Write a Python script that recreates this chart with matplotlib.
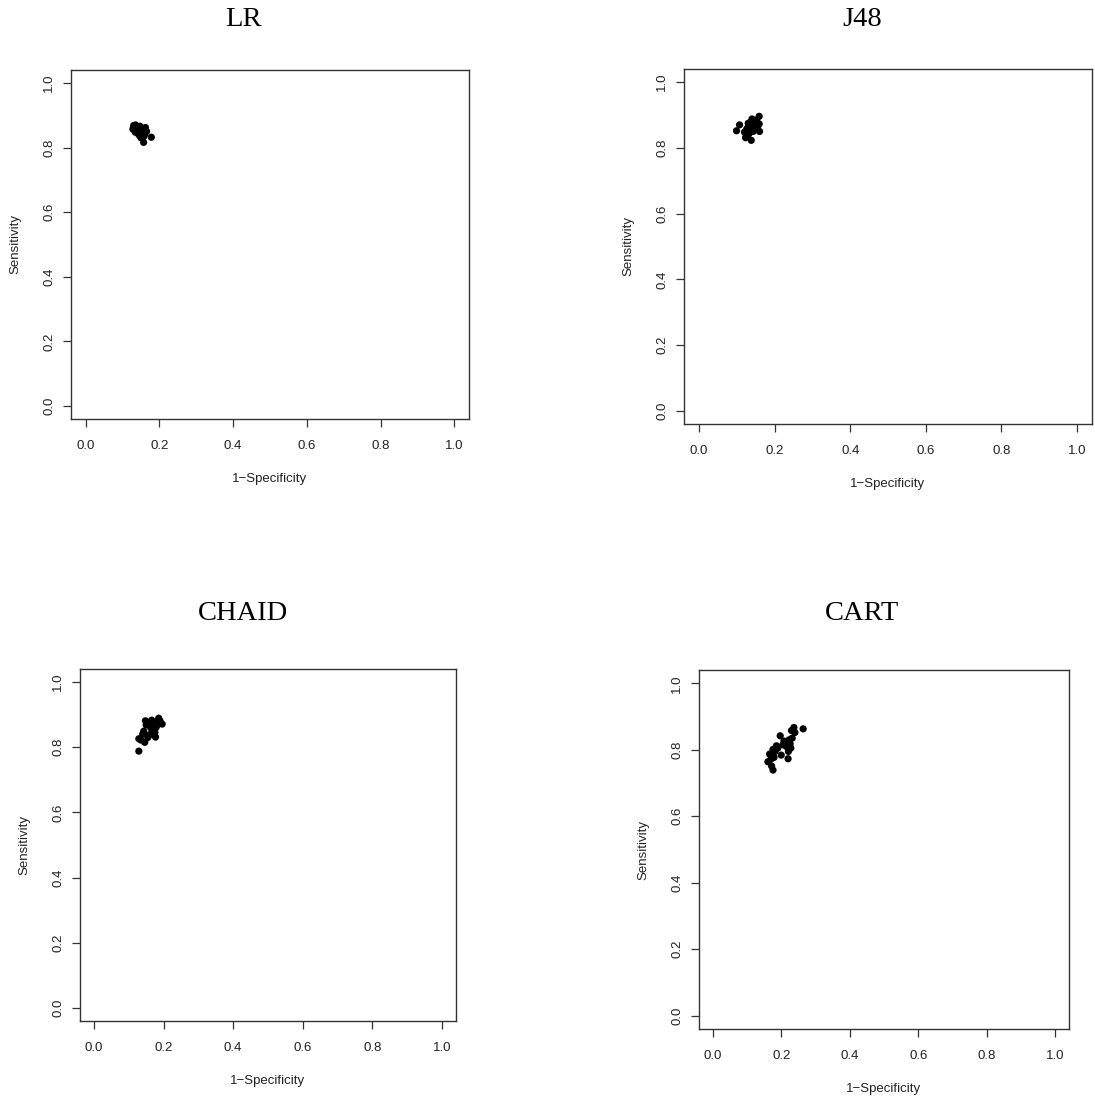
import matplotlib
matplotlib.use("Agg")
import matplotlib.pyplot as plt

titles = ["LR", "J48", "CHAID", "CART"]

lr_x = [0.130, 0.135, 0.140, 0.145, 0.132, 0.138, 0.143, 0.148, 0.152, 0.155, 0.158, 0.162, 0.165,
        0.178, 0.157, 0.150, 0.140, 0.136, 0.145, 0.153, 0.160, 0.147, 0.142, 0.134, 0.128]
lr_y = [0.868, 0.870, 0.865, 0.862, 0.858, 0.855, 0.850, 0.848, 0.845, 0.840, 0.835, 0.862, 0.850,
        0.832, 0.816, 0.830, 0.845, 0.860, 0.838, 0.855, 0.842, 0.866, 0.852, 0.848, 0.857]

j48_x = [0.099, 0.107, 0.120, 0.125, 0.128, 0.130, 0.133, 0.135, 0.138, 0.140, 0.142, 0.145, 0.148,
         0.150, 0.152, 0.155, 0.159, 0.160, 0.159, 0.138, 0.123, 0.130, 0.143, 0.136, 0.147, 0.126]
j48_y = [0.852, 0.870, 0.848, 0.835, 0.860, 0.875, 0.845, 0.865, 0.855, 0.888, 0.870, 0.880, 0.860,
         0.875, 0.885, 0.865, 0.896, 0.850, 0.873, 0.823, 0.831, 0.840, 0.850, 0.878, 0.882, 0.857]

chaid_x = [0.129, 0.129, 0.135, 0.143, 0.146, 0.148, 0.150, 0.155, 0.158, 0.160, 0.163, 0.166, 0.168,
           0.170, 0.172, 0.175, 0.177, 0.180, 0.183, 0.186, 0.190, 0.196, 0.140, 0.152, 0.165, 0.178]
chaid_y = [0.788, 0.826, 0.822, 0.849, 0.815, 0.881, 0.868, 0.830, 0.837, 0.875, 0.860, 0.883, 0.850,
           0.857, 0.870, 0.845, 0.831, 0.865, 0.878, 0.889, 0.880, 0.871, 0.840, 0.872, 0.842, 0.860]

cart_x = [0.161, 0.176, 0.172, 0.166, 0.176, 0.186, 0.197, 0.200, 0.220, 0.213, 0.223, 0.228, 0.230,
          0.237, 0.240, 0.264, 0.221, 0.208, 0.232, 0.179, 0.170, 0.190, 0.215, 0.226, 0.182, 0.205]
cart_y = [0.764, 0.739, 0.751, 0.787, 0.801, 0.812, 0.842, 0.784, 0.773, 0.820, 0.830, 0.805, 0.858,
          0.867, 0.852, 0.863, 0.795, 0.826, 0.835, 0.777, 0.772, 0.805, 0.810, 0.818, 0.795, 0.815]

ticks = [0.0, 0.2, 0.4, 0.6, 0.8, 1.0]
tick_labels = ["0.0", "0.2", "0.4", "0.6", "0.8", "1.0"]

W, H = 1095, 1104
fig = plt.figure(figsize=(W / 100, H / 100), dpi=100)

# axes boxes in pixels: left, right, top, bottom
boxes = [(71, 469, 70, 419), (684, 1092, 69, 424), (80, 456, 669, 1021), (699, 1069, 670, 1029)]
title_pos = [(243, 26), (862, 26), (243, 620), (862, 620)]
data = [(lr_x, lr_y), (j48_x, j48_y), (chaid_x, chaid_y), (cart_x, cart_y)]

plt.rcParams['font.family'] = ['Liberation Sans', 'DejaVu Sans']
txt_col = '#222222'

for (l, r, t, b), (tx, ty), (xs, ys), name in zip(boxes, title_pos, data, titles):
    ax = fig.add_axes([l / W, 1 - b / H, (r - l) / W, (b - t) / H])
    ax.scatter(xs, ys, s=27, color='black', edgecolors='none', zorder=3)
    ax.set_xlim(-0.04, 1.04)
    ax.set_ylim(-0.04, 1.04)
    ax.set_xticks(ticks)
    ax.set_xticklabels(tick_labels)
    ax.set_yticks(ticks)
    ax.set_yticklabels(tick_labels, rotation=90, va='center')
    for sp in ax.spines.values():
        sp.set_color('#333333')
        sp.set_linewidth(1.0)
    ax.tick_params(direction='out', length=6, width=0.9, color='#333333',
                   labelsize=9.5, labelcolor=txt_col)
    ax.tick_params(axis='x', pad=9)
    ax.tick_params(axis='y', pad=5.5)
    ax.set_xlabel("1\u2212Specificity", fontsize=9.5, color=txt_col, labelpad=15.5)
    ax.set_ylabel("Sensitivity", fontsize=9.5, color=txt_col, labelpad=15.5)
    fig.text(tx / W, 1 - ty / H, name, ha='center', va='baseline',
             fontsize=20.5, family='Liberation Serif', color='black')

fig.savefig("out.png", dpi=100)
